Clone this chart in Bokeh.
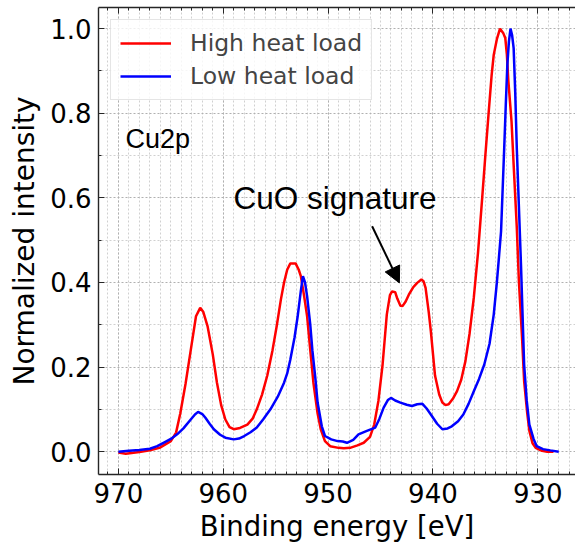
from bokeh.plotting import figure
from bokeh.models import (Range1d, LinearAxis, FixedTicker, Label, Arrow, NormalHead,
                          NumeralTickFormatter)
from bokeh.embed import file_html
from bokeh.resources import INLINE

# ---- data ----
high_x = [970.0, 969.3, 968.0, 967.0, 966.0, 965.0, 964.5, 964.1, 963.6, 963.1, 962.6, 962.2, 961.9,
          961.5, 961.0, 960.6, 960.2, 959.8, 959.4, 959.0, 958.4, 957.7, 957.2, 956.8, 956.3, 955.8,
          955.3, 954.9, 954.5, 954.2, 953.9, 953.6, 953.1, 952.8, 952.6, 952.3, 952.0, 951.7, 951.4,
          951.0, 950.7, 950.3, 949.8, 949.0, 948.5, 947.9, 947.2, 946.6, 946.0, 945.6, 945.2, 944.8,
          944.4, 944.1, 943.9, 943.6, 943.4, 943.1, 942.9, 942.6, 942.3, 941.9, 941.5, 941.1, 940.9,
          940.7, 940.4, 940.2, 939.8, 939.4, 939.1, 938.8, 938.5, 938.1, 937.7, 937.3, 936.9, 936.5,
          936.1, 935.7, 935.3, 935.0, 934.7, 934.4, 934.2, 933.9, 933.6, 933.3, 933.1, 932.95, 932.8,
          932.5, 932.3, 932.0, 931.8, 931.5, 931.3, 931.0, 930.8, 930.5, 930.2, 929.6, 929.1, 928.5]
high_y = [-0.002, -0.005, -0.001, 0.003, 0.010, 0.025, 0.045, 0.090, 0.160, 0.240, 0.320, 0.340, 0.330,
          0.297, 0.230, 0.163, 0.110, 0.076, 0.058, 0.053, 0.056, 0.064, 0.078, 0.100, 0.135, 0.180,
          0.240, 0.297, 0.360, 0.400, 0.430, 0.445, 0.445, 0.430, 0.415, 0.370, 0.320, 0.240, 0.163,
          0.090, 0.053, 0.025, 0.013, 0.009, 0.008, 0.009, 0.015, 0.021, 0.035, 0.064, 0.120, 0.206,
          0.324, 0.370, 0.379, 0.377, 0.362, 0.345, 0.344, 0.355, 0.371, 0.388, 0.399, 0.407, 0.403,
          0.387, 0.330, 0.285, 0.180, 0.135, 0.116, 0.110, 0.112, 0.125, 0.143, 0.170, 0.214, 0.280,
          0.364, 0.470, 0.600, 0.700, 0.796, 0.890, 0.938, 0.975, 1.000, 0.990, 0.978, 0.940, 0.875,
          0.780, 0.678, 0.530, 0.403, 0.270, 0.167, 0.090, 0.049, 0.020, 0.009, 0.002, 0.000, 0.000]

low_x = [970.0, 969.0, 968.0, 967.0, 966.3, 965.7, 965.0, 964.4, 963.8, 963.1, 962.7, 962.4, 962.0,
         961.7, 961.3, 960.9, 960.3, 959.8, 959.0, 958.5, 958.0, 957.4, 956.8, 956.2, 955.5, 954.8,
         954.2, 953.9, 953.6, 953.2, 952.9, 952.6, 952.4, 952.2, 952.0, 951.7, 951.5, 951.2, 951.0,
         950.6, 950.3, 949.7, 949.1, 948.6, 948.2, 947.6, 947.1, 946.3, 945.5, 945.1, 944.7, 944.3,
         944.0, 943.6, 943.1, 942.5, 942.0, 941.5, 941.0, 940.6, 940.2, 939.6, 939.1, 938.6, 938.2,
         937.6, 937.1, 936.6, 936.1, 935.6, 935.1, 934.6, 934.2, 933.9, 933.7, 933.5, 933.2, 933.05,
         932.9, 932.75, 932.6, 932.45, 932.3, 932.15, 932.0, 931.8, 931.6, 931.3, 931.05, 930.8,
         930.4, 930.1, 929.5, 928.8, 928.0]
low_y = [0.000, 0.002, 0.004, 0.007, 0.013, 0.021, 0.030, 0.041, 0.055, 0.076, 0.088, 0.094, 0.089,
         0.080, 0.066, 0.053, 0.040, 0.033, 0.029, 0.031, 0.037, 0.046, 0.057, 0.076, 0.100, 0.130,
         0.163, 0.185, 0.218, 0.270, 0.320, 0.380, 0.415, 0.400, 0.367, 0.300, 0.240, 0.170, 0.116,
         0.060, 0.037, 0.029, 0.025, 0.024, 0.021, 0.028, 0.041, 0.049, 0.057, 0.078, 0.104, 0.122,
         0.127, 0.121, 0.116, 0.111, 0.108, 0.112, 0.113, 0.102, 0.088, 0.066, 0.053, 0.055, 0.060,
         0.072, 0.088, 0.113, 0.143, 0.172, 0.206, 0.255, 0.324, 0.400, 0.460, 0.521, 0.718, 0.820,
         0.915, 0.970, 1.000, 0.985, 0.954, 0.850, 0.718, 0.580, 0.442, 0.206, 0.120, 0.064,
         0.030, 0.013, 0.006, 0.003, 0.000]

x_major = [970, 960, 950, 940, 930]
x_minor = list(range(926, 973))
y_major = [0.0, 0.2, 0.4, 0.6, 0.8, 1.0]
y_minor = [0.1, 0.3, 0.5, 0.7, 0.9]

series_names = ["High heat load", "Low heat load"]
series_colors = ["#ff0000", "#0000ff"]

# ---- figure ----
p = figure(width=575, height=544, output_backend="svg", toolbar_location=None,
           x_range=Range1d(971.9, 926.4), y_range=Range1d(-0.054, 1.05),
           min_border_left=98, min_border_right=0, min_border_top=7, min_border_bottom=69)
p.outline_line_color = None
p.background_fill_color = "white"

bottom = p.below[0]
left = p.left[0]

p.line(high_x, high_y, line_color=series_colors[0], line_width=2.5, legend_label=series_names[0])
p.line(low_x, low_y, line_color=series_colors[1], line_width=2.5, legend_label=series_names[1])

xt = FixedTicker(ticks=x_major, minor_ticks=x_minor)
yt = FixedTicker(ticks=y_major, minor_ticks=y_minor)

top = LinearAxis(ticker=xt)
top.major_label_overrides = {t: "" for t in x_major}
p.add_layout(top, "above")

for ax in [bottom, left, top]:
    ax.major_tick_in = 6
    ax.major_tick_out = 0
    ax.minor_tick_in = 3
    ax.minor_tick_out = 0
    ax.axis_line_color = "#262626"
    ax.axis_line_width = 1.4
    ax.major_tick_line_color = "#262626"
    ax.minor_tick_line_color = "#262626"
    ax.major_label_text_font = "DejaVu Sans"
    ax.major_label_text_font_size = "26px"
    ax.major_label_text_color = "black"
    ax.axis_label_text_font = "DejaVu Sans"
    ax.axis_label_text_font_size = "28px"
    ax.axis_label_text_font_style = "normal"
    ax.axis_label_text_color = "black"

top.major_label_standoff = 0
top.major_label_text_font_size = "1px"

bottom.ticker = xt
left.ticker = yt
left.formatter = NumeralTickFormatter(format="0.0")
bottom.axis_label = "Binding energy [eV]"
left.axis_label = "Normalized intensity"
bottom.axis_label_text_font_size = "27.5px"
bottom.major_label_standoff = 8
left.major_label_standoff = 7
bottom.axis_label_standoff = 4
left.axis_label_standoff = 6

for g in [p.xgrid[0], p.ygrid[0]]:
    g.grid_line_color = "#b0b0b0"
    g.grid_line_dash = "2 2"
    g.grid_line_width = 1
    g.minor_grid_line_color = "#d0d0d0"
    g.minor_grid_line_dash = "2 2"
    g.minor_grid_line_width = 1
p.xgrid[0].ticker = xt
p.ygrid[0].ticker = yt

# ---- legend ----
lg = p.legend[0]
lg.location = "top_left"
lg.margin = 12
lg.label_text_font = "DejaVu Sans"
lg.label_text_font_size = "23.5px"
lg.glyph_width = 51
lg.label_standoff = 19
lg.padding = 9
lg.spacing = 5
lg.border_line_color = "#cccccc"
lg.border_line_width = 1
lg.background_fill_alpha = 0.8

# ---- annotations ----
p.add_layout(Label(x=969.33, y=0.738, text="Cu2p", text_font="Liberation Sans",
                   text_font_size="27px", text_color="black", text_baseline="alphabetic"))
p.add_layout(Label(x=959.03, y=0.600, text="CuO signature", text_font="Liberation Sans",
                   text_font_size="31.5px", text_color="black", text_baseline="alphabetic"))
p.add_layout(Arrow(end=NormalHead(size=16, fill_color="black", line_color="black"),
                   x_start=945.8, y_start=0.533, x_end=943.2, y_end=0.399,
                   line_color="black", line_width=2))

open("out.html", "w").write(file_html(p, INLINE))
